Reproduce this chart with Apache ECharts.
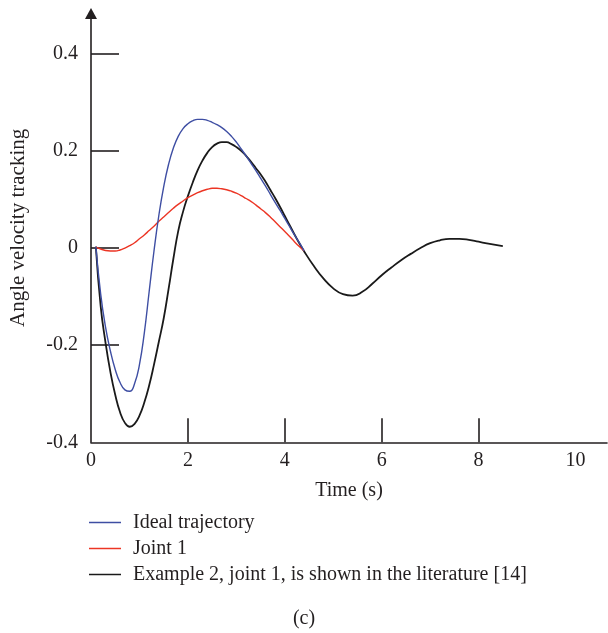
<!DOCTYPE html>
<html>
<head>
<meta charset="utf-8">
<script src="https://cdn.jsdelivr.net/npm/echarts@6/dist/echarts.min.js"></script>
<style>
  html, body { margin: 0; padding: 0; background: #fff; }
  #chart { width: 608px; height: 633px; }
</style>
</head>
<body>
<div id="chart"></div>
<script>
  // 时间轴 (s)
  var timeShort = [0.1, 0.2, 0.3, 0.4, 0.5, 0.6, 0.7, 0.8, 0.9, 1.0,
    1.1, 1.2, 1.3, 1.4, 1.5, 1.6, 1.7, 1.8, 1.9, 2.0,
    2.1, 2.2, 2.3, 2.4, 2.5, 2.6, 2.7, 2.8, 2.9, 3.0,
    3.1, 3.2, 3.3, 3.4, 3.5, 3.6, 3.7, 3.8, 3.9, 4.0,
    4.1, 4.2, 4.3, 4.4];
  var timeTail = [4.6, 4.8, 5.0, 5.2, 5.4, 5.6, 5.8, 6.0, 6.2, 6.4, 6.6, 6.8, 7.0, 7.2, 7.4, 7.6, 7.8, 8.0, 8.2, 8.5];

  var idealValues = [0.003, -0.095, -0.163, -0.212, -0.25, -0.277, -0.292, -0.295, -0.279, -0.24,
    -0.175, -0.09, -0.006, 0.067, 0.126, 0.172, 0.206, 0.23, 0.246, 0.256,
    0.262, 0.265, 0.265, 0.263, 0.259, 0.254, 0.248, 0.24, 0.23, 0.218,
    0.204, 0.19, 0.175, 0.16, 0.144, 0.128, 0.111, 0.094, 0.078, 0.061,
    0.044, 0.027, 0.011, -0.006];
  var jointValues = [0.002, -0.002, -0.005, -0.006, -0.006, -0.004, 0.0, 0.005, 0.011, 0.019,
    0.027, 0.036, 0.045, 0.055, 0.064, 0.073, 0.082, 0.09, 0.097, 0.104,
    0.109, 0.114, 0.118, 0.121, 0.123, 0.123, 0.122, 0.12, 0.117, 0.113,
    0.108, 0.102, 0.096, 0.089, 0.081, 0.073, 0.064, 0.054, 0.044, 0.034,
    0.024, 0.013, 0.003, -0.006];
  var litValues = [0.003, -0.12, -0.195, -0.255, -0.302, -0.338, -0.36, -0.368, -0.362, -0.345,
    -0.318, -0.283, -0.24, -0.193, -0.145, -0.085, -0.022, 0.035, 0.075, 0.107,
    0.135, 0.16, 0.18, 0.196, 0.208, 0.215, 0.218, 0.218, 0.214, 0.208,
    0.2, 0.19, 0.178, 0.165, 0.152, 0.137, 0.12, 0.103, 0.085, 0.066,
    0.047, 0.028, 0.01, -0.007];
  var litTailValues = [-0.037, -0.063, -0.083, -0.095, -0.098, -0.09, -0.074, -0.056, -0.04, -0.025,
    -0.012, 0.0, 0.01, 0.016, 0.019, 0.019, 0.017, 0.013, 0.009, 0.004];

  var xLabels = [0, 2, 4, 6, 8, 10];
  var xTicks = [2, 4, 6, 8];
  var yLabels = [-0.4, -0.2, 0, 0.2, 0.4];
  var yTicks = [-0.2, 0, 0.2, 0.4];

  var seriesNames = ['Ideal trajectory', 'Joint 1', 'Example 2, joint 1, is shown in the literature [14]'];

  function pairs(xs, ys) {
    return xs.map(function (x, i) { return [x, ys[i]] })
  }

  var font = 'Liberation Serif'
  var ink = '#231f20'

  var chart = echarts.init(document.getElementById('chart'))
  chart.setOption({
    animation: false,
    backgroundColor: '#fff',
    title: {
      text: '(c)',
      left: 'center',
      top: 604,
      textStyle: { fontFamily: font, fontSize: 20, fontWeight: 'normal', color: ink }
    },
    legend: {
      data: seriesNames,
      orient: 'vertical',
      left: 84,
      top: 507.5,
      icon: 'rect',
      itemWidth: 32,
      itemHeight: 1.5,
      itemGap: 6,
      textStyle: { fontFamily: font, fontSize: 20, color: ink, lineHeight: 20, padding: [0, 0, 0, 7] }
    },
    grid: {   //绘图区
      left: 90,
      right: 1,
      top: 13.5,
      bottom: 190.7
    },
    xAxis: {
      type: 'value',
      min: 0,
      max: 10.65,
      interval: 2,
      name: 'Time (s)',
      nameLocation: 'middle',
      nameGap: 38,
      nameTextStyle: { fontFamily: font, fontSize: 20, color: ink },
      axisLine: { onZero: false, lineStyle: { color: ink, width: 1.6 } },
      axisTick: { inside: true, length: 24, customValues: xTicks, lineStyle: { color: ink, width: 1.6 } },
      axisLabel: { customValues: xLabels, margin: 8, fontFamily: font, fontSize: 20, color: ink },
      splitLine: { show: false }
    },
    yAxis: {
      type: 'value',
      min: -0.4,
      max: 0.483,
      interval: 0.2,
      name: 'Angle velocity tracking',
      nameLocation: 'middle',
      nameGap: 62,
      nameTextStyle: { fontFamily: font, fontSize: 21, color: ink },
      axisLine: {
        show: true,
        symbol: ['none', 'triangle'],
        symbolSize: [12, 11],
        lineStyle: { color: ink, width: 1.6 }
      },
      axisTick: { inside: true, length: 28, customValues: yTicks, lineStyle: { color: ink, width: 1.6 } },
      axisLabel: { customValues: yLabels, margin: 13, fontFamily: font, fontSize: 20, color: ink },
      splitLine: { show: false }
    },
    series: [
      {
        name: seriesNames[2],
        type: 'line',
        smooth: true,
        symbol: 'none',
        data: pairs(timeShort.concat(timeTail), litValues.concat(litTailValues)),
        lineStyle: { color: '#1a1a1a', width: 1.8 },
        itemStyle: { color: '#1a1a1a' }
      },
      {
        name: seriesNames[1],
        type: 'line',
        smooth: true,
        symbol: 'none',
        data: pairs(timeShort, jointValues),
        lineStyle: { color: '#ec3524', width: 1.4 },
        itemStyle: { color: '#ec3524' }
      },
      {
        name: seriesNames[0],
        type: 'line',
        smooth: true,
        symbol: 'none',
        data: pairs(timeShort, idealValues),
        lineStyle: { color: '#3e4ea3', width: 1.4 },
        itemStyle: { color: '#3e4ea3' }
      }
    ]
  })
</script>
</body>
</html>
